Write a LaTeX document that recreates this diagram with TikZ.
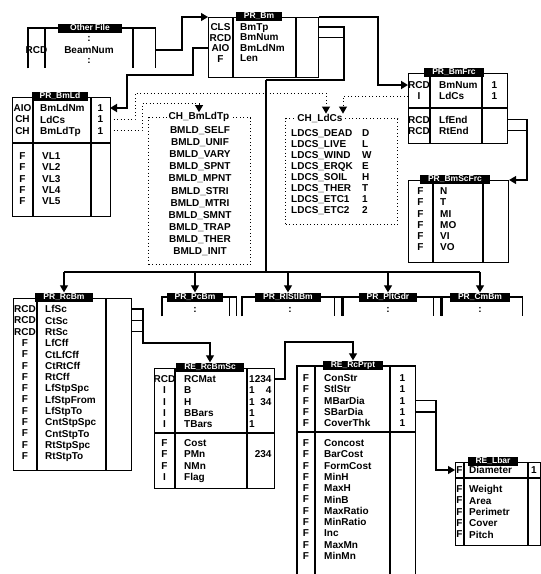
\documentclass[tikz,border=0pt]{standalone}
\usepackage{fontspec}
\setmainfont{Liberation Sans}
\usetikzlibrary{arrows.meta}

\newcommand{\rowf}{\fontsize{10}{11.3}\selectfont\bfseries}
\newcommand{\hdrf}{\fontsize{8.5}{9}\selectfont\bfseries}

\begin{document}
\begin{tikzpicture}[x=1pt, y=-1pt,
  tbl/.style={draw, line width=1.1pt, rectangle, anchor=north west, inner sep=0pt},
  opn/.style={rectangle, anchor=north west, inner sep=0pt},
  hdr/.style={fill=black, text=white, font=\hdrf, inner xsep=8pt, inner ysep=1pt,
              text height=6.2pt, text depth=0.8pt},
  ttl/.style={fill=white, font=\rowf, inner xsep=2pt, inner ysep=0pt},
  cell/.style={font=\rowf, inner sep=0pt},
  typ/.style={font=\rowf, inner sep=0pt, anchor=north, align=center},
  fld/.style={font=\rowf, inner sep=0pt, anchor=north west, align=left},
  divl/.style={line width=1.1pt},
  lnk/.style={line width=1.2pt},
  thk/.style={line width=2.6pt},
  dotl/.style={line width=1pt, dash pattern=on 1pt off 2.5pt},
  arw/.style={-{Triangle[length=7pt,width=8pt]}}
]
\useasboundingbox (0,0) rectangle (541,574);

% other file
\node[opn, minimum width=127pt, minimum height=40pt] (oth) at (28,28) {};
\draw[divl] (oth.south west) |- (oth.north east) -- (oth.south east);
\draw[divl] ([xshift=17pt]oth.north west) -- ([xshift=17pt]oth.south west);
\draw[divl] ([xshift=105pt]oth.north west) -- ([xshift=105pt]oth.south west);
\node[hdr, inner xsep=12pt] (oth-h) at (90,28) {Other File};
\node[cell] (oth-t) at (36.5,50) {RCD};
\node[cell] (oth-f) at (89,50) {BeamNum};
\node[cell] (oth-d1) at (89,39) {:};
\node[cell] (oth-d2) at (89,61) {:};
\coordinate (oth-r) at (155,50);

% PR_Bm
\node[tbl, minimum width=110pt, minimum height=60pt] (bm) at (208,17) {};
\draw[divl] ([xshift=25pt]bm.north west) -- ([xshift=25pt]bm.south west);
\draw[divl] ([xshift=88pt]bm.north west) -- ([xshift=88pt]bm.south west);
\node[hdr] (bm-h) at (259,16) {PR\_Bm};
\node[typ, font=\fontsize{10}{10.5}\selectfont\bfseries] (bm-t) at (220.5,23.4) {CLS\\RCD\\AIO\\F};
\node[fld, font=\fontsize{10}{10.5}\selectfont\bfseries] (bm-f) at (240,23.4) {BmTp\\BmNum\\BmLdNm\\Len};
\coordinate (bm-cls) at (318,27);
\coordinate (bm-rcd) at (318,37.5);
\coordinate (bm-aio) at (208,48);

% PR_BmLd
\node[tbl, minimum width=98pt, minimum height=119pt] (bmld) at (12,97) {};
\draw[divl] ([xshift=21pt]bmld.north west) -- ([xshift=21pt]bmld.south west);
\draw[divl] ([xshift=79pt]bmld.north west) -- ([xshift=79pt]bmld.south west);
\draw[divl] ([yshift=-46pt]bmld.north west) -- ([yshift=-46pt]bmld.north east);
\node[hdr] (bmld-h) at (60,96) {PR\_BmLd};
\node[typ] (bmld-t1) at (22.5,104.4) {AIO\\CH\\CH};
\node[fld] (bmld-f1) at (40,104.4) {BmLdNm\\LdCs\\BmLdTp};
\node[typ] (bmld-n1) at (100.5,104.4) {1\\1\\1};
\node[typ] (bmld-t2) at (22.5,152.4) {F\\F\\F\\F\\F};
\node[fld] (bmld-f2) at (42,152.4) {VL1\\VL2\\VL3\\VL4\\VL5};
\coordinate (bmld-aio) at (110,108);
\coordinate (bmld-ldcs) at (110,119.3);
\coordinate (bmld-tp) at (110,130.6);

% PR_BmFrc
\node[tbl, minimum width=99pt, minimum height=70pt] (bmfrc) at (408,73) {};
\draw[divl] ([xshift=22pt]bmfrc.north west) -- ([xshift=22pt]bmfrc.south west);
\draw[divl] ([xshift=74pt]bmfrc.north west) -- ([xshift=74pt]bmfrc.south west);
\draw[divl] ([yshift=-35pt]bmfrc.north west) -- ([yshift=-35pt]bmfrc.north east);
\node[hdr] (bmfrc-h) at (454,72) {PR\_BmFrc};
\node[typ] (bmfrc-t1) at (419,81.4) {RCD\\I};
\node[fld] (bmfrc-f1) at (439,81.4) {BmNum\\LdCs};
\node[typ] (bmfrc-n1) at (494.5,81.4) {1\\1};
\node[typ] (bmfrc-t2) at (419,115.9) {RCD\\RCD};
\node[fld] (bmfrc-f2) at (439,115.9) {LfEnd\\RtEnd};
\coordinate (bmfrc-num) at (408,85);
\coordinate (bmfrc-ldcs) at (408,96.3);
\coordinate (bmfrc-lf) at (507,119.5);
\coordinate (bmfrc-rt) at (507,130.8);

% PR_BmScFrc
\node[tbl, minimum width=100pt, minimum height=82pt] (bmscfrc) at (408,180) {};
\draw[divl] ([xshift=25pt]bmscfrc.north west) -- ([xshift=25pt]bmscfrc.south west);
\draw[divl] ([xshift=75pt]bmscfrc.north west) -- ([xshift=75pt]bmscfrc.south west);
\node[hdr] (bmscfrc-h) at (455,179) {PR\_BmScFrc};
\node[typ] (bmscfrc-t) at (420.5,187.4) {F\\F\\F\\F\\F\\F};
\node[fld] (bmscfrc-f) at (440,187.4) {N\\T\\MI\\MO\\VI\\VO};

% choice lists
\node[opn, draw, dotl, minimum width=102pt, minimum height=147pt] (chbmldtp) at (148,117) {};
\node[ttl] (chbmldtp-h) at (199,117) {CH\_BmLdTp};
\node[typ, font=\fontsize{10}{12.1}\selectfont\bfseries] (chbmldtp-l) at (200,126.4)
  {BMLD\_SELF\\BMLD\_UNIF\\BMLD\_VARY\\BMLD\_SPNT\\BMLD\_MPNT\\BMLD\_STRI\\BMLD\_MTRI\\BMLD\_SMNT\\BMLD\_TRAP\\BMLD\_THER\\BMLD\_INIT};
\node[opn, draw, dotl, minimum width=112pt, minimum height=106pt] (chldcs) at (285,118) {};
\node[ttl] (chldcs-h) at (320,118) {CH\_LdCs};
\node[fld, font=\fontsize{10}{11}\selectfont\bfseries] (chldcs-l) at (291,129.4)
  {LDCS\_DEAD\\LDCS\_LIVE\\LDCS\_WIND\\LDCS\_ERQK\\LDCS\_SOIL\\LDCS\_THER\\LDCS\_ETC1\\LDCS\_ETC2};
\node[fld, font=\fontsize{10}{11}\selectfont\bfseries] (chldcs-v) at (362,129.4) {D\\L\\W\\E\\H\\T\\1\\2};

% PR_RcBm
\node[tbl, minimum width=118pt, minimum height=172pt] (rcbm) at (13,298) {};
\draw[divl] ([xshift=24pt]rcbm.north west) -- ([xshift=24pt]rcbm.south west);
\draw[divl] ([xshift=93pt]rcbm.north west) -- ([xshift=93pt]rcbm.south west);
\node[hdr] (rcbm-h) at (64,297) {PR\_RcBm};
\node[typ] (rcbm-t) at (25,305.4) {RCD\\RCD\\RCD\\F\\F\\F\\F\\F\\F\\F\\F\\F\\F\\F};
\node[fld] (rcbm-f) at (45,305.4) {LfSc\\CtSc\\RtSc\\LfCff\\CtLfCff\\CtRtCff\\RtCff\\LfStpSpc\\LfStpFrom\\LfStpTo\\CntStpSpc\\CntStpTo\\RtStpSpc\\RtStpTo};
\coordinate (rcbm-lf) at (131,309);
\coordinate (rcbm-ct) at (131,320.3);
\coordinate (rcbm-rt) at (131,331.6);

% other beam kinds
\node[opn, minimum width=74pt, minimum height=19pt] (pcbm) at (162,297) {};
\draw[divl] (pcbm.south west) |- (pcbm.north east) -- (pcbm.south east);
\draw[divl] ([xshift=-7pt]pcbm.north east) -- ([xshift=-7pt]pcbm.south east);
\node[hdr] (pcbm-h) at (195,297) {PR\_PcBm};
\node[cell] (pcbm-d) at (195,310) {:};

\node[opn, minimum width=99pt, minimum height=19pt] (rlstlbm) at (242,297) {};
\draw[divl] (rlstlbm.south west) |- (rlstlbm.north east) -- (rlstlbm.south east);
\draw[divl] ([xshift=-7pt]rlstlbm.north east) -- ([xshift=-7pt]rlstlbm.south east);
\node[hdr] (rlstlbm-h) at (288,297) {PR\_RlStlBm};
\node[cell] (rlstlbm-d) at (290,310) {:};

\node[opn, minimum width=97pt, minimum height=19pt] (pltgdr) at (343,297) {};
\draw[divl] (pltgdr.south west) |- (pltgdr.north east) -- (pltgdr.south east);
\draw[divl] ([xshift=-7pt]pltgdr.north east) -- ([xshift=-7pt]pltgdr.south east);
\node[hdr] (pltgdr-h) at (388,297) {PR\_PltGdr};
\node[cell] (pltgdr-d) at (388,310) {:};

\node[opn, minimum width=80pt, minimum height=19pt] (cmbm) at (442,297) {};
\draw[divl] (cmbm.south west) |- (cmbm.north east) -- (cmbm.south east);
\node[hdr] (cmbm-h) at (480,297) {PR\_CmBm};
\node[cell] (cmbm-d) at (480,310) {:};

% RE_RcBmSc
\node[tbl, minimum width=120pt, minimum height=120pt] (rcbmsc) at (154,368) {};
\draw[divl] ([xshift=21pt]rcbmsc.north west) -- ([xshift=21pt]rcbmsc.south west);
\draw[divl] ([xshift=93pt]rcbmsc.north west) -- ([xshift=93pt]rcbmsc.south west);
\draw[divl] ([yshift=-65pt]rcbmsc.north west) -- ([yshift=-65pt]rcbmsc.north east);
\node[hdr] (rcbmsc-h) at (210,367) {RE\_RcBmSc};
\node[typ] (rcbmsc-t1) at (164.5,375.4) {RCD\\I\\I\\I\\I};
\node[fld] (rcbmsc-f1) at (184,375.4) {RCMat\\B\\H\\BBars\\TBars};
\node[fld] (rcbmsc-n1) at (249,375.4) {1234\\1\hphantom{23}4\\1\hphantom{2}34\\1\\1};
\node[typ] (rcbmsc-t2) at (164.5,439.4) {F\\F\\F\\I};
\node[fld] (rcbmsc-f2) at (184,439.4) {Cost\\PMn\\NMn\\Flag};
\node[fld] (rcbmsc-n2) at (249,450.7) {\hphantom{1}234};
\coordinate (rcbmsc-mat) at (274,379);

% RE_RcPrpt
\node[opn, minimum width=118pt, minimum height=208pt] (rcprpt) at (297,366) {};
\draw[divl] (rcprpt.south west) |- (rcprpt.north east) -- (rcprpt.south east);
\draw[divl] ([xshift=18pt]rcprpt.north west) -- ([xshift=18pt]rcprpt.south west);
\draw[divl] ([xshift=93pt]rcprpt.north west) -- ([xshift=93pt]rcprpt.south west);
\draw[divl] ([yshift=-66pt]rcprpt.north west) -- ([yshift=-66pt]rcprpt.north east);
\node[hdr] (rcprpt-h) at (353,365) {RE\_RcPrpt};
\node[typ] (rcprpt-t1) at (306,374.4) {F\\F\\F\\F\\F};
\node[fld] (rcprpt-f1) at (324,374.4) {ConStr\\StlStr\\MBarDia\\SBarDia\\CoverThk};
\node[typ] (rcprpt-n1) at (402.5,374.4) {1\\1\\1\\1\\1};
\node[typ] (rcprpt-t2) at (306,439.4) {F\\F\\F\\F\\F\\F\\F\\F\\F\\F\\F};
\node[fld] (rcprpt-f2) at (324,439.4) {Concost\\BarCost\\FormCost\\MinH\\MaxH\\MinB\\MaxRatio\\MinRatio\\Inc\\MaxMn\\MinMn};
\coordinate (rcprpt-mb) at (415,400.6);
\coordinate (rcprpt-sb) at (415,411.9);

% RE_Lbar
\node[tbl, minimum width=85pt, minimum height=83pt] (lbar) at (455,462) {};
\draw[divl] ([xshift=9pt]lbar.north west) -- ([xshift=9pt]lbar.south west);
\draw[divl] ([xshift=73pt]lbar.north west) -- ([xshift=73pt]lbar.south west);
\draw[divl] ([yshift=-16pt]lbar.north west) -- ([yshift=-16pt]lbar.north east);
\node[hdr] (lbar-h) at (493,461) {RE\_Lbar};
\node[typ] (lbar-t1) at (459.5,466.4) {F};
\node[fld] (lbar-f1) at (469,466.4) {Diameter};
\node[typ] (lbar-n1) at (534,466.4) {1};
\node[typ] (lbar-t2) at (459.5,485.4) {F\\F\\F\\F\\F};
\node[fld] (lbar-f2) at (469,485.4) {Weight\\Area\\Perimetr\\Cover\\Pitch};
\coordinate (lbar-dia) at (455,470);

% connectors
\coordinate (trunk) at (266,80);
\coordinate (tree) at (266,272);
\draw[lnk, arw] (oth-r) -- ++(27,0) |- (bm.north west);
\draw[thk, arw] (bm-aio) -- ++(-15,0) -- ++(0,27) -| ([xshift=17pt]bmld-aio) -- (bmld-aio);
\draw[thk, arw] (bm.north east) -- ++(59,0) |- (bmfrc-num);
\draw[lnk] (bm-cls) -- ++(26,0) |- (trunk);
\draw[lnk] (bm-rcd) -- ++(26,0);
\draw[thk] (trunk) -- (tree);
\draw[lnk] (rcbm-h |- tree) -- (cmbm-h |- tree);
\draw[lnk, arw] (rcbm-h |- tree) -- (rcbm-h.north);
\draw[lnk, arw] (pcbm-h |- tree) -- (pcbm-h.north);
\draw[lnk, arw] (rlstlbm-h |- tree) -- (rlstlbm-h.north);
\draw[lnk, arw] (pltgdr-h |- tree) -- (pltgdr-h.north);
\draw[lnk, arw] (cmbm-h |- tree) -- (cmbm-h.north);
\draw[lnk, arw] (rcbm-lf) -- ++(12,0) -- ++(0,34) -| (rcbmsc-h.north);
\draw[lnk] (rcbm-ct) -- ++(12,0);
\draw[lnk] (rcbm-rt) -- ++(12,0);
\draw[lnk, arw] (rcbmsc-mat) -- ++(11,0) -- ++(0,-37) -| (rcprpt-h.north);
\draw[lnk, arw] (rcprpt-mb) -- ++(21,0) |- (lbar-dia);
\draw[lnk] (rcprpt-sb) -- ++(21,0);
\draw[lnk, arw] (bmfrc-lf) -- ++(20,0) |- (bmscfrc.north east);
\draw[lnk] (bmfrc-rt) -- ++(20,0);
\draw[dotl, arw] (bmld-ldcs) -- ++(25,0) -- ++(0,-26) -| ([xshift=6pt]chldcs-h.north);
\draw[dotl, arw] (bmld-tp) -- ++(32,0) -- ++(0,-27) -| (chbmldtp-h.north);
\draw[dotl, arw] (bmfrc-ldcs) -| ([xshift=23pt]chldcs-h.north);
\end{tikzpicture}
\end{document}
